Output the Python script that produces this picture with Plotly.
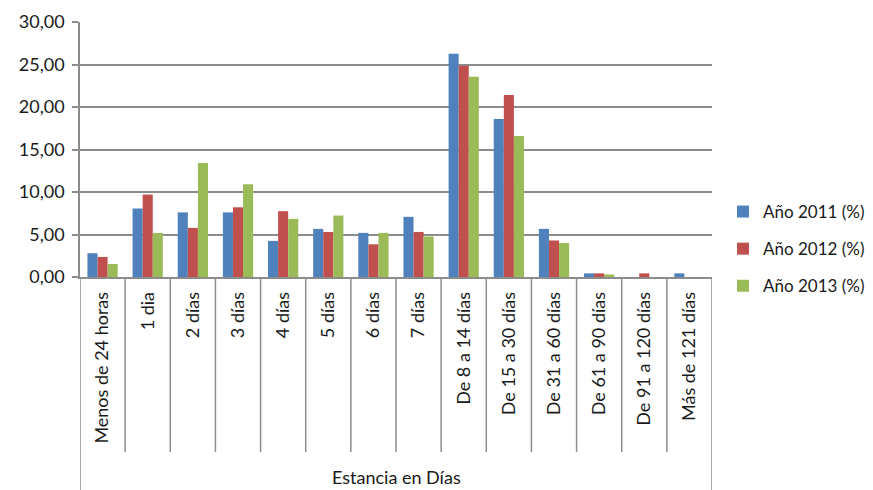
import plotly.graph_objects as go

categories = ["Menos de 24 horas", "1 dia", "2 días", "3 días", "4 días", "5 días", "6 días",
              "7 días", "De 8 a 14 días", "De 15 a 30 días", "De 31 a 60 días",
              "De 61 a 90 días", "De 91 a 120 días", "Más de 121 días"]
y2011 = [2.80, 8.06, 7.60, 7.60, 4.25, 5.66, 5.19, 7.08, 26.26, 18.60, 5.66, 0.43, 0.00, 0.43]
y2012 = [2.36, 9.70, 5.78, 8.20, 7.75, 5.30, 3.85, 5.30, 24.85, 21.40, 4.30, 0.43, 0.43, 0.00]
y2013 = [1.53, 5.19, 13.40, 10.90, 6.84, 7.23, 5.19, 4.76, 23.55, 16.60, 4.00, 0.30, 0.00, 0.00]
series_names = ["Año 2011 (%)", "Año 2012 (%)", "Año 2013 (%)"]
colors = ["#4F81BD", "#C0504D", "#9BBB59"]
y_ticks = [0, 5, 10, 15, 20, 25, 30]
x_title = "Estancia en Días"

# page has an 8px body margin; work in page pixels and convert
OFF = 8
W, H = 873 - OFF, 490 - OFF


def px(xp):
    return (xp - OFF) / W


def py(yp):
    return (H - (yp - OFF)) / H


left, right, top, bottom = 80, 712, 22, 277
div_bottom = 452
FONT = "Lato"
FS = 18

fig = go.Figure()
for name, vals, col in zip(series_names, [y2011, y2012, y2013], colors):
    fig.add_trace(go.Bar(x=list(range(len(categories))), y=vals, name=name,
                         marker=dict(color=col, line=dict(width=0)),
                         legendgroup=name))

grid_col = "#8C8C8C"
shapes = []
for i in range(len(categories) - 1):
    shapes.append(dict(type="line", xref="x", yref="paper", x0=i + 0.5, x1=i + 0.5,
                       y0=py(div_bottom), y1=py(bottom),
                       line=dict(color=grid_col, width=1.5)))
for xe in [-0.5, len(categories) - 0.5]:
    shapes.append(dict(type="line", xref="x", yref="paper", x0=xe, x1=xe,
                       y0=0, y1=py(bottom),
                       line=dict(color=grid_col, width=1.5)))

fig.update_layout(
    width=W, height=H,
    margin=dict(l=0, r=0, t=0, b=0, autoexpand=False),
    paper_bgcolor="white", plot_bgcolor="white",
    font=dict(family=FONT, color="#1a1a1a", size=FS),
    separators=",.",
    barmode="group", bargap=0.33, bargroupgap=0,
    showlegend=True,
    legend=dict(x=px(723), y=py(194), xanchor="left", yanchor="top",
                font=dict(family=FONT, size=17), traceorder="grouped",
                tracegroupgap=12, itemwidth=30, bgcolor="rgba(0,0,0,0)"),
    xaxis=dict(domain=[px(left), px(right)], tickmode="array",
               tickvals=list(range(len(categories))), ticktext=categories,
               tickangle=-90, range=[-0.5, len(categories) - 0.5],
               showline=True, linecolor=grid_col, linewidth=1.5,
               ticks="", showgrid=False, tickfont=dict(size=FS, family=FONT),
               ticklabelstandoff=6, automargin=False),
    yaxis=dict(domain=[py(bottom), py(top)], range=[0, 30],
               tickvals=y_ticks, tickformat=".2f", showgrid=True,
               gridcolor=grid_col, gridwidth=1.5, showline=True,
               linecolor=grid_col, linewidth=1.5, ticks="outside",
               ticklen=6, tickcolor=grid_col, tickwidth=1.5,
               tickfont=dict(size=FS, family=FONT), zeroline=False,
               ticklabelstandoff=4, automargin=False),
    shapes=shapes,
    annotations=[dict(text=x_title, x=px((left + right) / 2), y=py(477),
                      xref="paper", yref="paper", showarrow=False,
                      font=dict(size=FS, family=FONT), xanchor="center",
                      yanchor="middle")],
)

fig.write_html("out.html")
